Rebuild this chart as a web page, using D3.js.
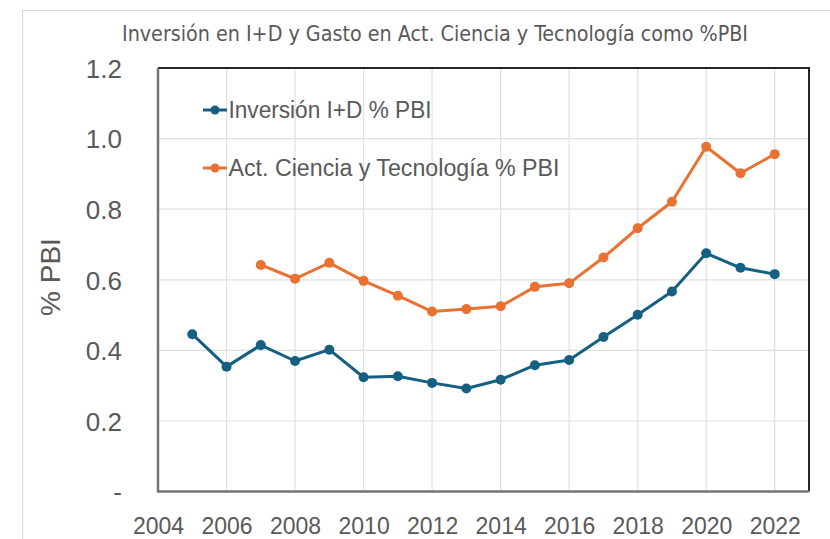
<!DOCTYPE html>
<html><head><meta charset="utf-8">
<script src="https://cdn.jsdelivr.net/npm/d3@7"></script>
<style>body{margin:0;background:#fff}svg{display:block}</style>
</head><body>
<svg id="c" width="830" height="539"></svg>
<script>
const titleText = "Inversión en I+D y Gasto en Act. Ciencia y Tecnología como %PBI";
const yTitle = "% PBI";
const seriesNames = ["Inversión I+D % PBI", "Act. Ciencia y Tecnología % PBI"];
const seriesColors = ["#156082", "#E97132"];
const yearsID = [2005,2006,2007,2008,2009,2010,2011,2012,2013,2014,2015,2016,2017,2018,2019,2020,2021,2022];
const valuesID = [0.446,0.354,0.415,0.370,0.402,0.324,0.327,0.308,0.292,0.317,0.358,0.373,0.438,0.501,0.567,0.675,0.634,0.616];
const yearsACT = [2007,2008,2009,2010,2011,2012,2013,2014,2015,2016,2017,2018,2019,2020,2021,2022];
const valuesACT = [0.642,0.603,0.648,0.597,0.555,0.510,0.517,0.525,0.580,0.590,0.663,0.746,0.821,0.977,0.902,0.956];
const xTicks = [2004,2006,2008,2010,2012,2014,2016,2018,2020,2022];
const yTicks = [0,0.2,0.4,0.6,0.8,1.0,1.2];
const yTickLabels = ["-","0.2","0.4","0.6","0.8","1.0","1.2"];

const svg = d3.select("#c");
const L = 158, R = 809, T = 68, B = 491.6;
const x = d3.scaleLinear().domain([2004, 2023]).range([L, R]);
const y = d3.scaleLinear().domain([0, 1.2]).range([B, T]);

// outer frame
svg.append("rect").attr("x",22.5).attr("y",10.5).attr("width",900).attr("height",700)
  .attr("fill","none").attr("stroke","#d9d9d9").attr("stroke-width",1);

// title
svg.append("text").attr("x",435).attr("y",41).attr("text-anchor","middle")
  .attr("font-family","'DejaVu Sans Condensed','Liberation Sans Narrow',sans-serif")
  .attr("font-size",21).attr("fill","#595959")
  .attr("textLength",626).attr("lengthAdjust","spacingAndGlyphs")
  .text(titleText);

// gridlines
svg.append("g").selectAll("line").data(xTicks.filter(d=>d>2004)).join("line")
  .attr("x1",d=>x(d)).attr("x2",d=>x(d)).attr("y1",T).attr("y2",B)
  .attr("stroke","#e0e0e0").attr("stroke-width",1.2);
svg.append("g").selectAll("line").data(yTicks.filter(d=>d>0 && d<1.2)).join("line")
  .attr("x1",L).attr("x2",R).attr("y1",d=>y(d)).attr("y2",d=>y(d))
  .attr("stroke","#e0e0e0").attr("stroke-width",1.2);

// top & right border
svg.append("path").attr("d",`M${L},${T}H${R}V${B}`).attr("fill","none")
  .attr("stroke","#262626").attr("stroke-width",2);

// axes
const yAxis = d3.axisLeft(y).tickValues(yTicks).tickSize(0).tickPadding(0)
  .tickFormat((d,i)=>yTickLabels[i]);
const gy = svg.append("g").attr("transform",`translate(${L},0)`).call(yAxis);
gy.select(".domain").remove();
gy.selectAll("text").attr("x",-36).attr("dy","0.36em")
  .attr("font-family","'Liberation Sans',Arial,sans-serif").attr("font-size",26).attr("fill","#595959");

const xAxis = d3.axisBottom(x).tickValues(xTicks).tickSize(0).tickFormat(d3.format("d"));
const gx = svg.append("g").attr("transform",`translate(0,${B})`).call(xAxis);
gx.select(".domain").remove();
gx.selectAll("text").attr("y",42).attr("dy",0)
  .attr("font-family","'Liberation Sans',Arial,sans-serif").attr("font-size",23).attr("fill","#595959");

svg.append("path").attr("d",`M${L},${T}V${B}H${R}`).attr("fill","none")
  .attr("stroke","#757575").attr("stroke-width",2.5);

// y title
svg.append("text").attr("transform",`translate(60,277) rotate(-90)`).attr("text-anchor","middle")
  .attr("font-family","'Liberation Sans',Arial,sans-serif").attr("font-size",28).attr("fill","#595959")
  .text(yTitle);

// series
const line = d3.line().x(d=>x(d[0])).y(d=>y(d[1]));
const data = [d3.zip(yearsID, valuesID), d3.zip(yearsACT, valuesACT)];
data.forEach((ser,i)=>{
  svg.append("path").datum(ser).attr("d",line).attr("fill","none")
    .attr("stroke",seriesColors[i]).attr("stroke-width",3).attr("stroke-linejoin","round");
  svg.append("g").selectAll("circle").data(ser).join("circle")
    .attr("cx",d=>x(d[0])).attr("cy",d=>y(d[1])).attr("r",5).attr("fill",seriesColors[i]);
});

// legend
const legY = [110, 168];
const legW = [203, 331];
seriesNames.forEach((n,i)=>{
  svg.append("line").attr("x1",203).attr("x2",227).attr("y1",legY[i]).attr("y2",legY[i])
    .attr("stroke",seriesColors[i]).attr("stroke-width",3);
  svg.append("circle").attr("cx",215).attr("cy",legY[i]).attr("r",4.5).attr("fill",seriesColors[i]);
  svg.append("text").attr("x",228.5).attr("y",legY[i]+8).attr("font-size",23)
    .attr("font-family","'Liberation Sans',Arial,sans-serif").attr("fill","#595959")
    .attr("textLength",legW[i]).attr("lengthAdjust","spacingAndGlyphs").text(n);
});
</script>
</body></html>
